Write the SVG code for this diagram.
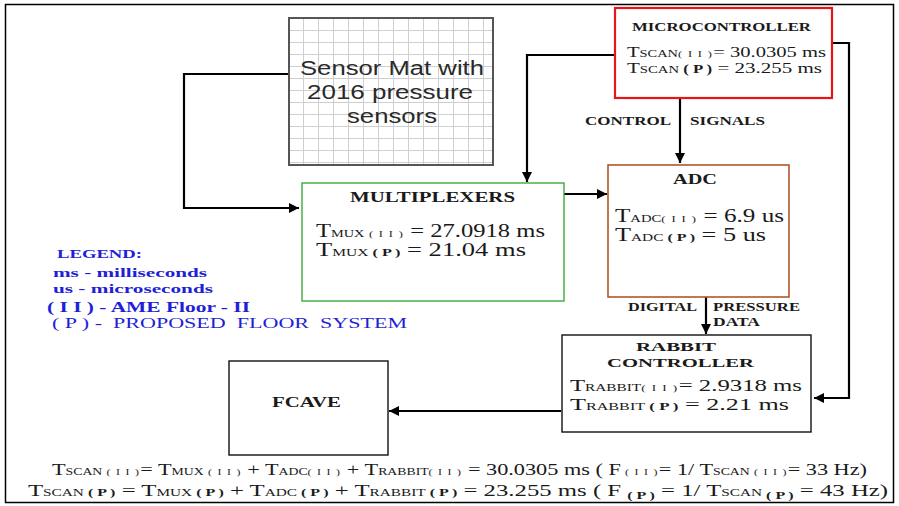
<svg xmlns="http://www.w3.org/2000/svg" width="899" height="506" viewBox="0 0 899 506">
<style>
.t{font-family:"Liberation Serif","Times New Roman",serif;fill:#1a1a1a}
.b{font-weight:bold}
.s{font-size:10.5px}
.r{font-size:9px;letter-spacing:1px}
.lg{font-family:"Liberation Serif","Times New Roman",serif;fill:#1f1fd6;font-weight:bold}
.lgn{font-family:"Liberation Serif","Times New Roman",serif;fill:#1f1fd6;font-weight:normal}
.ar{font-family:"Liberation Sans",Arial,sans-serif;fill:#2a2a2a}
.c{fill:none;stroke:#000;stroke-width:2.2}
</style>
<defs>
<marker id="ah" viewBox="0 0 10 10" refX="10" refY="5" markerWidth="11" markerHeight="10" markerUnits="userSpaceOnUse" orient="auto"><path d="M0,0L10,5L0,10z" fill="#000"/></marker>
<pattern id="grid" x="288" y="18" width="15" height="12" patternUnits="userSpaceOnUse"><rect width="15" height="12" fill="#fff"/><path d="M0,0V12M0,0H15" stroke="#cfcfcf" stroke-width="2"/></pattern>
</defs>
<rect width="899" height="506" fill="#fff"/>
<rect x="5.5" y="4.5" width="888" height="498" fill="none" stroke="#000" stroke-width="1.5"/>

<g id="connectors">
<polyline class="c" points="288,74 184,74 184,208 299,208" stroke-width="2.6" marker-end="url(#ah)"/>
<polyline class="c" points="615,55 527,55 527,182" marker-end="url(#ah)"/>
<line class="c" x1="680" y1="99" x2="680" y2="163" marker-end="url(#ah)"/>
<polyline class="c" points="833,43 849,43 849,398 814,398" marker-end="url(#ah)"/>
<line class="c" x1="564" y1="194" x2="607" y2="194" stroke="#555" stroke-width="1.2" marker-end="url(#ah)"/>
<line class="c" x1="706" y1="297" x2="706" y2="334" stroke-width="1.6" marker-end="url(#ah)"/>
<line class="c" x1="561" y1="411" x2="389" y2="411" marker-end="url(#ah)"/>
<text class="t b" x="585" y="125" font-size="12" textLength="86" lengthAdjust="spacingAndGlyphs">CONTROL</text>
<text class="t b" x="690" y="125" font-size="12" textLength="75" lengthAdjust="spacingAndGlyphs">SIGNALS</text>
<text class="t b" x="628" y="311" font-size="11.5" textLength="69" lengthAdjust="spacingAndGlyphs">DIGITAL</text>
<text class="t b" x="713" y="311" font-size="11.5" textLength="87" lengthAdjust="spacingAndGlyphs">PRESSURE</text>
<text class="t b" x="713" y="326" font-size="11.5" textLength="47" lengthAdjust="spacingAndGlyphs">DATA</text>
</g>

<g id="sensor-mat">
<rect x="289" y="18" width="204" height="147" fill="url(#grid)" stroke="#555" stroke-width="2"/>
<text class="ar" x="300" y="75" font-size="20" textLength="184" lengthAdjust="spacingAndGlyphs">Sensor Mat with</text>
<text class="ar" x="307" y="99" font-size="20" textLength="166" lengthAdjust="spacingAndGlyphs">2016 pressure</text>
<text class="ar" x="347" y="123" font-size="20" textLength="90" lengthAdjust="spacingAndGlyphs">sensors</text>
</g>

<g id="microcontroller">
<rect x="615" y="8" width="217" height="90" fill="#fff" stroke="#e8141a" stroke-width="2.2"/>
<text class="t b" x="632" y="31" font-size="13" textLength="179" lengthAdjust="spacingAndGlyphs">MICROCONTROLLER</text>
<text class="t" x="627" y="57" font-size="15" textLength="199" lengthAdjust="spacingAndGlyphs">T<tspan class="s">SCAN</tspan><tspan class="r">( I I )</tspan>= 30.0305 ms</text>
<text class="t" x="627" y="73" font-size="15" textLength="195" lengthAdjust="spacingAndGlyphs">T<tspan class="s">SCAN</tspan><tspan class="b" font-size="12"> ( P )</tspan> = 23.255 ms</text>
</g>

<g id="multiplexers">
<rect x="302" y="183" width="262" height="118" fill="#fff" stroke="#3caa3c" stroke-width="1.4"/>
<text class="t b" x="350" y="202" font-size="14" textLength="165" lengthAdjust="spacingAndGlyphs">MULTIPLEXERS</text>
<text class="t" x="316" y="237" font-size="18" textLength="229" lengthAdjust="spacingAndGlyphs">T<tspan class="s" font-size="12">MUX</tspan><tspan class="r" font-size="10"> ( I I )</tspan> = 27.0918 ms</text>
<text class="t" x="316" y="256" font-size="18" textLength="210" lengthAdjust="spacingAndGlyphs">T<tspan class="s" font-size="12">MUX</tspan><tspan class="b" font-size="11"> ( P )</tspan>  = 21.04 ms</text>
</g>

<g id="adc">
<rect x="608" y="165" width="181" height="132" fill="#fff" stroke="#b2552a" stroke-width="1.6"/>
<text class="t b" x="673" y="184" font-size="14" textLength="44" lengthAdjust="spacingAndGlyphs">ADC</text>
<text class="t" x="615" y="222" font-size="18" textLength="169" lengthAdjust="spacingAndGlyphs">T<tspan class="s" font-size="12">ADC</tspan><tspan class="r" font-size="10">( I I )</tspan> = 6.9 us</text>
<text class="t" x="615" y="241" font-size="18" textLength="151" lengthAdjust="spacingAndGlyphs">T<tspan class="s" font-size="12">ADC</tspan><tspan class="b" font-size="11"> ( P )</tspan> = 5 us</text>
</g>

<g id="rabbit-controller">
<rect x="562" y="335" width="249" height="97" fill="#fff" stroke="#111" stroke-width="1.4"/>
<text class="t b" x="636" y="351" font-size="13.5" textLength="80" lengthAdjust="spacingAndGlyphs">RABBIT</text>
<text class="t b" x="607" y="367" font-size="13.5" textLength="147" lengthAdjust="spacingAndGlyphs">CONTROLLER</text>
<text class="t" x="570" y="391" font-size="17" textLength="232" lengthAdjust="spacingAndGlyphs">T<tspan class="s" font-size="11.5">RABBIT</tspan><tspan class="r" font-size="10">( I I )</tspan>= 2.9318 ms</text>
<text class="t" x="570" y="410" font-size="17" textLength="219" lengthAdjust="spacingAndGlyphs">T<tspan class="s" font-size="11.5">RABBIT</tspan><tspan class="b" font-size="11"> ( P )</tspan> = 2.21 ms</text>
</g>

<g id="fcave">
<rect x="229" y="361" width="159" height="94" fill="#fff" stroke="#111" stroke-width="1.4"/>
<text class="t b" x="272" y="407" font-size="14" textLength="69" lengthAdjust="spacingAndGlyphs">FCAVE</text>
</g>

<g id="legend">
<text class="lg" x="57" y="258" font-size="13.5" textLength="85" lengthAdjust="spacingAndGlyphs">LEGEND:</text>
<text class="lg" x="53" y="277" font-size="13" textLength="154" lengthAdjust="spacingAndGlyphs">ms - milliseconds</text>
<text class="lg" x="53" y="293" font-size="13" textLength="160" lengthAdjust="spacingAndGlyphs">us - microseconds</text>
<text class="lg" x="47" y="312" font-size="14" textLength="203" lengthAdjust="spacingAndGlyphs">( I I ) - AME Floor - II</text>
<text class="lgn" x="52" y="328" font-size="15" textLength="355" lengthAdjust="spacingAndGlyphs" xml:space="preserve">( P ) -  PROPOSED  FLOOR  SYSTEM</text>
</g>

<g id="equations">
<text class="t" x="52" y="475" font-size="17" textLength="815" lengthAdjust="spacingAndGlyphs">T<tspan class="s">SCAN</tspan><tspan class="r"> ( I I )</tspan>= T<tspan class="s">MUX</tspan><tspan class="r"> ( I I )</tspan> + T<tspan class="s">ADC</tspan><tspan class="r">( I I )</tspan> + T<tspan class="s">RABBIT</tspan><tspan class="r">( I I )</tspan> = 30.0305 ms ( F<tspan class="r"> ( I I )</tspan>= 1/ T<tspan class="s">SCAN</tspan><tspan class="r"> ( I I )</tspan>= 33 Hz)</text>
<text class="t" x="28" y="496" font-size="17" textLength="860" lengthAdjust="spacingAndGlyphs">T<tspan class="s">SCAN</tspan><tspan class="b" font-size="11"> ( P )</tspan> = T<tspan class="s">MUX</tspan><tspan class="b" font-size="11"> ( P )</tspan>   + T<tspan class="s">ADC</tspan><tspan class="b" font-size="11"> ( P )</tspan>   + T<tspan class="s">RABBIT</tspan><tspan class="b" font-size="11"> ( P )</tspan>   = 23.255 ms ( F <tspan class="b" font-size="11" dy="3">( P )</tspan><tspan dy="-3"> = 1/ T</tspan><tspan class="s">SCAN</tspan><tspan class="b" font-size="11" dy="3"> ( P )</tspan><tspan dy="-3"> = 43 Hz)</tspan></text>
</g>
</svg>
